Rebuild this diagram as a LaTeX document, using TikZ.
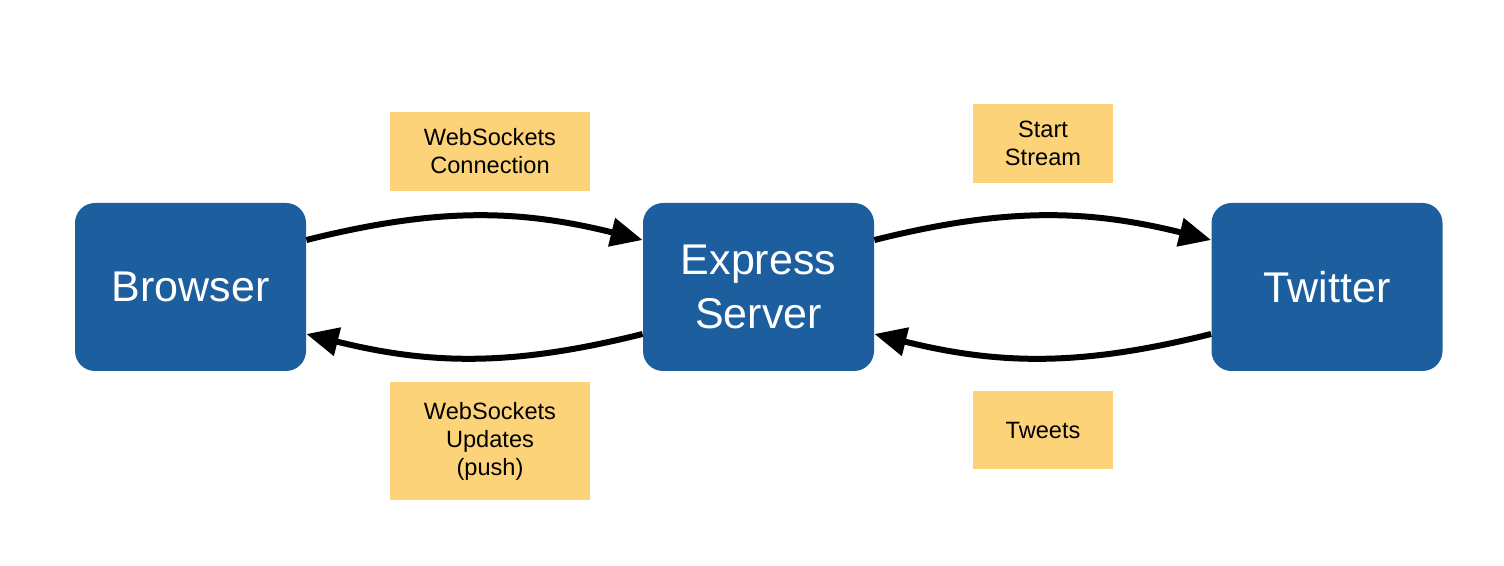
\documentclass[tikz,border=0pt]{standalone}
\usepackage{fontspec}
\setmainfont{Liberation Sans}
\usetikzlibrary{arrows.meta}
\definecolor{boxblue}{HTML}{1D5F9E}
\definecolor{noteyellow}{HTML}{FDD37A}
\begin{document}
\begin{tikzpicture}[x=0.5pt,y=-0.5pt,
  bluebox/.style={fill=boxblue,rounded corners=10pt,minimum width=115.5pt,minimum height=84pt,
    text=white,align=center,font=\fontsize{21.5}{27}\selectfont,inner sep=0pt},
  note/.style={fill=noteyellow,align=center,font=\fontsize{11.8}{14}\selectfont,inner sep=0pt,text=black},
  flow/.style={line width=3pt,-{Triangle[length=16pt,width=14pt]}}]
\useasboundingbox (0,0) rectangle (1504,566);
\node[bluebox] (b) at (190.5,287) {Browser};
\node[bluebox] (e) at (758.5,287) {Express\\Server};
\node[bluebox] (t) at (1327,287) {Twitter};
\node[note,minimum width=100pt,minimum height=39.5pt] (n1) at (490,151.5) {WebSockets\\Connection};
\node[note,minimum width=70pt,minimum height=39.5pt] (n2) at (1043,143.5) {Start\\Stream};
\node[note,minimum width=100pt,minimum height=58.5pt] (n3) at (490,441) {WebSockets\\Updates\\(push)};
\node[note,minimum width=70pt,minimum height=39pt] (n4) at (1043,430) {Tweets};
\draw[flow] ([yshift=23.5pt]b.east) to[bend left=14] ([yshift=23.5pt]e.west);
\draw[flow] ([yshift=-23.5pt]e.west) to[bend left=14] ([yshift=-23.5pt]b.east);
\draw[flow] ([yshift=23.5pt]e.east) to[bend left=14] ([yshift=23.5pt]t.west);
\draw[flow] ([yshift=-23.5pt]t.west) to[bend left=14] ([yshift=-23.5pt]e.east);
\end{tikzpicture}
\end{document}
